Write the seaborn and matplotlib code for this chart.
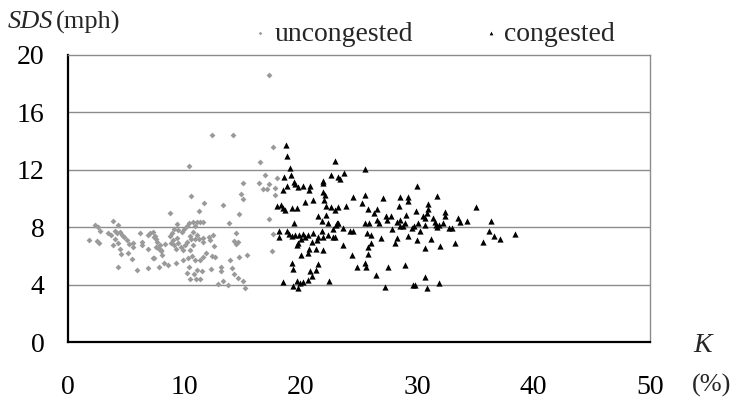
import matplotlib
matplotlib.use("Agg")
import matplotlib.pyplot as plt
import seaborn as sns
import pandas as pd

# ---- data (K in %, SDS in mph) ----
uncongested_k = [1.8, 2.32, 2.55, 2.75, 2.46, 2.66, 3.9, 4.27, 3.47, 3.7, 4.0, 4.18, 4.47, 4.61, 4.84, 4.04, 3.9, 4.33, 4.47, 4.55,
                 5.04, 5.24, 5.18, 5.61, 5.61, 5.53, 4.27, 5.9, 6.19, 6.33, 6.33, 6.84, 6.84, 7.04, 6.84,
                 10.42, 10.57, 11.71, 13.29, 11.23, 8.76, 13.8, 13.29, 12.92, 13.78, 13.12, 13.12, 12.25, 11.05, 11.48,
                 10.42, 10.25, 10.82, 10.48, 10.99, 11.34, 10.34, 9.91, 9.28, 8.62, 8.25, 7.85, 7.27, 8.05, 7.96,
                 10.48, 10.62, 10.91, 11.34, 11.62, 11.85, 12.34, 12.63, 12.54, 12.2, 12.48, 12.14, 11.62, 11.62, 11.28,
                 11.1, 10.76, 10.48, 10.54, 10.9, 10.7, 10.19, 10.05, 9.85, 9.68, 9.48, 9.33, 9.05, 8.82, 9.1,
                 9.28, 8.76, 8.91, 9.1, 9.48, 9.77, 9.97, 10.19, 10.42, 10.7, 11.05, 11.34, 11.57, 10.91, 9.4,
                 7.9, 8.33, 7.62, 7.39, 7.56, 7.27, 7.47, 7.53, 7.7, 7.99, 7.36,
                 12.37, 14.18, 17.27,
                 17.64, 16.5, 16.9, 15.06, 16.38, 17.3, 16.78, 17.12, 17.79, 17.93, 17.79, 14.83, 15.06, 14.72, 17.3,
                 14.43, 17.64, 14.26, 14.43, 14.63, 17.5, 14.72, 15.35, 13.92, 14.06, 14.26, 14.63, 15.0, 15.2]
uncongested_sds = [7.11, 8.15, 8.0, 7.76, 7.06, 6.88, 8.46, 8.15, 7.58, 7.46, 7.76, 7.58, 7.69, 7.46, 7.34, 7.16, 6.76, 6.92, 6.46, 6.14,
                   7.11, 6.83, 6.18, 6.88, 6.65, 5.77, 5.26, 5.03, 7.63, 7.0, 6.76, 6.46, 7.46, 7.58, 5.14,
                   12.26, 10.17, 9.71, 9.55, 9.1, 9.01, 8.27, 4.28, 4.05, 3.96, 5.21, 4.98, 5.07, 5.02, 4.98,
                   5.21, 4.84, 4.75, 4.38, 4.42, 4.42, 5.83, 5.72, 5.53, 5.37, 5.49, 5.21, 5.83, 6.07, 6.42,
                   6.42, 6.0, 5.72, 5.72, 5.9, 6.19, 6.0, 5.95, 6.7, 7.11, 7.46, 7.3, 7.23, 7.0, 7.16,
                   7.46, 7.69, 7.39, 7.16, 7.16, 6.77, 7.0, 6.77, 6.42, 6.6, 6.88, 7.23, 7.11, 6.88, 6.77,
                   6.48, 7.39, 7.62, 7.9, 7.81, 7.69, 7.86, 8.09, 8.27, 8.36, 8.39, 8.39, 8.39, 8.09, 8.23,
                   6.77, 6.84, 7.0, 7.34, 7.16, 7.69, 7.39, 6.65, 6.53, 6.37, 5.84,
                   14.44, 14.44, 18.6,
                   13.6, 12.54, 11.64, 11.1, 11.1, 11.0, 10.68, 10.68, 10.75, 11.4, 10.24, 10.29, 9.94, 8.9, 8.57,
                   7.6, 7.5, 7.06, 6.84, 7.0, 6.37, 5.95, 6.07, 5.7, 5.14, 4.74, 4.44, 4.28, 3.75]

congested_k = [18.7, 18.79, 19.07, 19.13, 18.55, 19.41, 19.5, 19.79, 20.16, 20.79, 20.68, 18.44, 18.84, 21.02, 20.39,
               17.93, 18.27, 18.5, 18.64, 19.21, 19.64, 21.5, 19.41, 18.15, 18.15, 18.79, 19.0, 19.21, 19.5, 19.87,
               20.16, 19.99, 19.79, 19.64, 20.36, 20.65, 21.08, 21.51, 20.93, 21.42, 20.74, 20.62, 21.31, 19.99, 19.21,
               19.3, 21.45, 21.31, 20.79, 20.93, 20.65, 18.44, 19.64, 19.93, 20.16, 19.36, 19.76,
               22.94, 25.52, 23.71, 23.23, 23.37, 22.56, 21.88, 21.88, 21.94, 22.05, 21.99, 22.17, 22.56, 22.94, 23.23,
               23.88, 22.17, 24.51, 25.52, 25.26, 25.8, 26.58, 26.29, 27.1, 28.48, 29.17, 29.17, 28.4, 27.33, 27.73,
               27.44, 26.58, 26.75, 29.0, 28.54, 28.25, 28.94, 25.52, 25.89, 21.8, 22.3, 23.08, 23.23, 23.03, 23.6,
               22.8, 21.8, 24.23, 24.51, 25.72, 26.0, 22.37, 22.94, 21.94, 22.74, 26.92, 27.82, 28.25, 28.1, 28.54,
               28.77, 29.23, 26.0, 25.8, 23.6, 21.94, 24.37, 25.8, 24.8, 25.52, 25.6, 27.53, 28.97, 26.49, 22.45, 27.22,
               29.96, 31.73, 30.96, 29.9, 30.96, 30.87, 32.36, 32.36, 30.47, 30.67, 31.33, 31.53, 31.62, 32.19, 31.9,
               31.67, 30.67, 30.04, 29.7, 29.55, 30.21, 32.76, 32.96, 33.5, 33.7, 34.3, 35.05, 36.3, 36.2, 36.6,
               37.1, 35.68, 30.01, 31.16, 30.67, 31.96, 33.25, 30.67, 29.61, 29.78, 30.81, 31.85, 38.4]
congested_sds = [13.7, 12.98, 12.12, 11.61, 11.48, 11.16, 11.02, 10.79, 10.84, 10.88, 10.56, 10.56, 10.88, 9.91, 9.78,
                 9.45, 9.56, 9.33, 9.17, 9.31, 9.31, 8.77, 8.28, 7.77, 7.3, 7.77, 7.54, 7.4, 7.44, 7.47,
                 7.54, 7.21, 6.93, 6.77, 7.35, 7.47, 7.63, 7.35, 7.0, 7.14, 6.46, 6.19, 6.46, 6.07, 5.54,
                 5.08, 5.45, 5.03, 4.93, 4.63, 4.3, 4.16, 4.25, 4.12, 4.16, 3.93, 3.79,
                 12.63, 12.03, 11.8, 11.48, 11.34, 11.61, 11.24, 11.05, 10.47, 10.24, 9.89, 9.48, 9.39, 9.2, 9.39,
                 9.48, 8.85, 10.12, 10.24, 9.71, 9.29, 9.29, 8.96, 10.01, 10.12, 10.12, 9.8, 9.48, 8.79, 8.79,
                 8.51, 8.51, 8.28, 8.86, 8.47, 8.33, 8.26, 8.26, 8.26, 8.42, 8.31, 8.26, 8.31, 8.12, 7.96,
                 7.84, 7.72, 7.72, 7.72, 7.6, 7.49, 7.49, 7.33, 7.33, 7.33, 7.26, 7.84, 7.26, 6.89, 8.05,
                 8.05, 7.42, 6.93, 6.65, 6.77, 6.38, 6.07, 6.14, 5.26, 5.49, 5.21, 5.26, 5.35, 4.7, 4.28, 3.86,
                 10.87, 10.17, 9.62, 9.15, 9.24, 9.01, 9.08, 8.78, 8.78, 8.62, 8.62, 8.39, 8.16, 8.27, 8.13,
                 8.04, 8.16, 8.27, 8.09, 7.93, 7.76, 7.93, 7.93, 8.64, 8.36, 8.46, 9.39, 8.46, 7.72, 7.4,
                 7.2, 6.99, 7.11, 7.2, 6.55, 6.69, 6.88, 4.51, 3.98, 3.95, 3.77, 4.09, 7.53]

x_ticks = [0, 10, 20, 30, 40, 50]
y_ticks = [0, 4, 8, 12, 16, 20]

df_u = pd.DataFrame({"K": uncongested_k, "SDS": uncongested_sds})
df_c = pd.DataFrame({"K": congested_k, "SDS": congested_sds})

sns.set_style("white")
plt.rcParams["font.family"] = ["Liberation Serif", "DejaVu Serif"]

fig = plt.figure(figsize=(7.33, 4.05), dpi=100)
ax = fig.add_axes([68 / 733, 1 - 342 / 405, (650 - 68) / 733, (342 - 55) / 405])

sns.scatterplot(data=df_u, x="K", y="SDS", ax=ax, color="#9a9a9a", marker="D", s=9,
                linewidth=0, label="uncongested", zorder=3)
sns.scatterplot(data=df_c, x="K", y="SDS", ax=ax, color="black", marker="^", s=20,
                linewidth=0, label="congested", zorder=4)

ax.set_xlim(0, 50)
ax.set_ylim(0, 20)
ax.set_xticks(x_ticks)
ax.set_yticks(y_ticks)
ax.set_xticklabels([str(v) for v in x_ticks])
ax.set_yticklabels([str(v) for v in y_ticks])
ax.set_xlabel("")
ax.set_ylabel("")

for yv in y_ticks[1:-1]:
    ax.axhline(yv, color="#8c8c8c", lw=1.0, zorder=1)

for side in ["top", "right"]:
    ax.spines[side].set_color("#8c8c8c")
    ax.spines[side].set_linewidth(1.0)
for side in ["left", "bottom"]:
    ax.spines[side].set_color("black")
    ax.spines[side].set_linewidth(1.6)

ax.tick_params(axis="both", direction="in", length=7, width=1.3, colors="black", labelsize=20)
ax.tick_params(axis="y", pad=17)
ax.tick_params(axis="x", pad=24)

leg = ax.legend(loc="center", bbox_to_anchor=(435 / 733, 1 - 34 / 405), bbox_transform=fig.transFigure,
                ncol=2, frameon=False, fontsize=20, markerscale=0.6, handlelength=0.4,
                handletextpad=0.3, columnspacing=2.6, borderpad=0)

fig.text(8 / 733, 1 - 22 / 405, "SDS", fontsize=19, style="italic", va="center", ha="left")
fig.text(56 / 733, 1 - 22 / 405, "(mph)", fontsize=19, va="center", ha="left")
fig.text(703 / 733, 1 - 345 / 405, "K", fontsize=20, style="italic", va="center", ha="center")
fig.text(731 / 733, 1 - 385 / 405, "(%)", fontsize=19, va="center", ha="right")

fig.savefig("out.png", dpi=100)
